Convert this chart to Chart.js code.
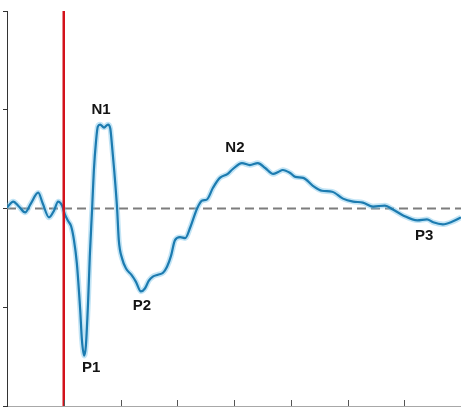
<!DOCTYPE html>
<html>
<head>
<meta charset="utf-8">
<title>ERP waveform</title>
<script src="https://cdn.jsdelivr.net/npm/chart.js@4/dist/chart.umd.min.js"></script>
<style>
  html, body { margin: 0; padding: 0; background: #ffffff; }
  canvas { display: block; }
</style>
</head>
<body>
<canvas id="erp" width="461" height="407"></canvas>
<script>
// Time axis (ms) and amplitude (µV, negative plotted upward)
const timesMs = [
  -100, -89, -79, -68, -58, -45, -37, -26, -17, -10, -3, 2, 8, 13, 18, 23,
  29, 32, 36, 39, 43, 46, 50, 53, 57, 60, 64, 71, 78, 82, 85, 89, 94, 97,
  103, 110, 119, 127, 136, 143, 150, 157, 166, 175, 182, 189, 196, 205, 214,
  223, 235, 244, 252, 263, 275, 289, 298, 314, 328, 342, 355, 369, 378, 386,
  399, 408, 422, 439, 455, 473, 492, 510, 527, 545, 566, 580, 598, 623, 640,
  651, 668, 686, 700
];
const amplitudeUv = [
  -0.01, -0.07, -0.02, 0.04, -0.05, -0.16, -0.05, 0.09, 0.02, -0.07, -0.03, 0.06,
  0.13, 0.18, 0.32, 0.55, 1.03, 1.33, 1.49, 1.39, 0.93, 0.47, 0.00, -0.38, -0.69,
  -0.83, -0.85, -0.82, -0.85, -0.81, -0.64, -0.38, 0.00, 0.32, 0.51, 0.61, 0.67,
  0.74, 0.84, 0.81, 0.73, 0.69, 0.67, 0.65, 0.59, 0.48, 0.32, 0.29, 0.30, 0.19,
  0.00, -0.08, -0.09, -0.21, -0.31, -0.35, -0.40, -0.46, -0.44, -0.46, -0.41,
  -0.35, -0.37, -0.39, -0.36, -0.32, -0.31, -0.23, -0.18, -0.17, -0.10, -0.07,
  -0.06, -0.02, -0.03, 0.01, 0.07, 0.12, 0.11, 0.14, 0.16, 0.13, 0.09
];

// Named components and the latency (ms) of the sample each name belongs to
const peakNames = ['N1', 'P1', 'P2', 'N2', 'P3'];
const peakTimesMs = [71, 36, 136, 314, 651];

// Axis tick values
const xTicksMs = [-100, 0, 100, 200, 300, 400, 500, 600, 700];
const yTicksUv = [-2, -1, 0, 1, 2];
const stimulusOnsetMs = 0;

const series = timesMs.map((t, i) => ({ x: t, y: amplitudeUv[i] }));

// Pixel offsets of each component name from its sample
const labelOffsets = {
  N1: [-3, -18], P1: [7, 12], P2: [1, 14], N2: [-7, -15], P3: [-9, 14]
};

const peakLabelPlugin = {
  id: 'peakLabels',
  afterDatasetsDraw(chart) {
    const ctx = chart.ctx;
    const xs = chart.scales.x, ys = chart.scales.y;
    ctx.save();
    ctx.font = 'bold 15px "Liberation Sans", Arial, sans-serif';
    ctx.fillStyle = '#141414';
    ctx.textAlign = 'center';
    ctx.textBaseline = 'middle';
    peakNames.forEach((name, i) => {
      const idx = timesMs.indexOf(peakTimesMs[i]);
      const px = xs.getPixelForValue(timesMs[idx]);
      const py = ys.getPixelForValue(amplitudeUv[idx]);
      const off = labelOffsets[name];
      ctx.fillText(name, px + off[0], py + off[1]);
    });
    ctx.restore();
  }
};

// Short tick marks pointing up from the time axis
const innerTickPlugin = {
  id: 'innerTicks',
  afterDraw(chart) {
    const ctx = chart.ctx;
    const xs = chart.scales.x;
    const bottom = chart.chartArea.bottom;
    ctx.save();
    ctx.strokeStyle = '#555555';
    ctx.lineWidth = 1;
    xs.ticks.forEach(tk => {
      if (tk.value === -100) return;
      const px = Math.round(xs.getPixelForValue(tk.value)) + 0.5;
      ctx.beginPath();
      ctx.moveTo(px, bottom);
      ctx.lineTo(px, bottom - 6);
      ctx.stroke();
    });
    ctx.restore();
  }
};

new Chart(document.getElementById('erp'), {
  type: 'line',
  data: {
    datasets: [
      {
        label: 'onset',
        data: [{ x: stimulusOnsetMs, y: yTicksUv[0] }, { x: stimulusOnsetMs, y: yTicksUv[yTicksUv.length - 1] }],
        borderColor: '#d3121b',
        borderWidth: 2.5,
        pointRadius: 0,
        tension: 0
      },
      {
        label: 'ERP',
        data: series,
        borderColor: '#1c7bb0',
        borderWidth: 2.2,
        pointRadius: 0,
        cubicInterpolationMode: 'monotone'
      },
      {
        label: 'ERP glow',
        data: series,
        borderColor: 'rgba(120, 195, 232, 0.45)',
        borderWidth: 5.5,
        pointRadius: 0,
        cubicInterpolationMode: 'monotone'
      },
      {
        label: 'baseline',
        data: [{ x: xTicksMs[0], y: 0 }, { x: xTicksMs[xTicksMs.length - 1], y: 0 }],
        borderColor: '#7d7d7d',
        borderWidth: 2,
        borderDash: [9, 5],
        pointRadius: 0,
        tension: 0
      }
    ]
  },
  options: {
    responsive: false,
    animation: false,
    devicePixelRatio: 1,
    layout: { padding: { left: 3, top: 11, right: 0, bottom: 1 } },
    plugins: { legend: { display: false }, tooltip: { enabled: false } },
    scales: {
      x: {
        type: 'linear',
        min: xTicksMs[0],
        max: xTicksMs[xTicksMs.length - 1],
        afterBuildTicks: s => { s.ticks = xTicksMs.map(v => ({ value: v })); },
        ticks: { display: false },
        grid: { drawOnChartArea: false, drawTicks: false },
        border: { display: true, color: '#a8a8a8', width: 1 }
      },
      y: {
        type: 'linear',
        reverse: true,
        min: yTicksUv[0],
        max: yTicksUv[yTicksUv.length - 1],
        afterBuildTicks: s => { s.ticks = yTicksUv.map(v => ({ value: v })); },
        ticks: { display: false },
        grid: { drawOnChartArea: false, drawTicks: true, tickLength: 4, color: '#333333' },
        border: { display: true, color: '#333333', width: 1 }
      }
    }
  },
  plugins: [peakLabelPlugin, innerTickPlugin]
});
</script>
</body>
</html>
